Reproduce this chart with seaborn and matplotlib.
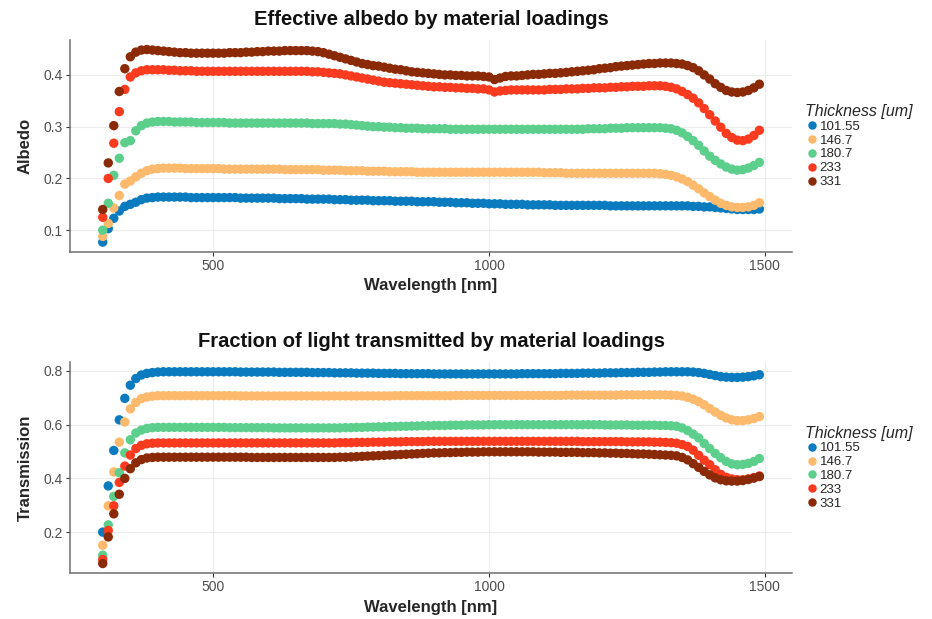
import numpy as np
import pandas as pd
import seaborn as sns
import matplotlib.pyplot as plt

# wavelength grid [nm], one point every 10 nm
wavelength = np.arange(300, 1500, 10)

thickness = ["101.55", "146.7", "180.7", "233", "331"]
colors = ["#0a7bbf", "#fdb96c", "#5dcf8c", "#fb3b1f", "#8b2a06"]

# Effective albedo, 300-1490 nm
albedo_101 = [
    0.077, 0.103, 0.123, 0.137, 0.146, 0.150, 0.154, 0.159, 0.162, 0.163,
    0.164, 0.164, 0.164, 0.164, 0.164, 0.164, 0.163, 0.163, 0.163, 0.163,
    0.163, 0.163, 0.163, 0.163, 0.163, 0.162, 0.162, 0.162, 0.162, 0.162,
    0.162, 0.162, 0.161, 0.161, 0.161, 0.161, 0.161, 0.160, 0.160, 0.160,
    0.160, 0.160, 0.159, 0.159, 0.159, 0.158, 0.158, 0.158, 0.158, 0.157,
    0.157, 0.157, 0.157, 0.156, 0.156, 0.156, 0.156, 0.155, 0.155, 0.155,
    0.155, 0.154, 0.154, 0.154, 0.153, 0.153, 0.153, 0.152, 0.152, 0.152,
    0.151, 0.151, 0.151, 0.150, 0.150, 0.150, 0.150, 0.149, 0.149, 0.149,
    0.149, 0.149, 0.148, 0.148, 0.148, 0.148, 0.148, 0.148, 0.148, 0.148,
    0.148, 0.148, 0.147, 0.147, 0.147, 0.147, 0.147, 0.147, 0.147, 0.147,
    0.147, 0.147, 0.147, 0.147, 0.147, 0.147, 0.147, 0.146, 0.146, 0.145,
    0.145, 0.144, 0.143, 0.142, 0.141, 0.140, 0.140, 0.140, 0.140, 0.141,
]
albedo_146 = [
    0.088, 0.113, 0.143, 0.167, 0.189, 0.195, 0.203, 0.210, 0.215, 0.218,
    0.219, 0.220, 0.220, 0.220, 0.220, 0.219, 0.219, 0.219, 0.219, 0.219,
    0.219, 0.219, 0.218, 0.218, 0.218, 0.218, 0.218, 0.218, 0.218, 0.218,
    0.218, 0.218, 0.218, 0.217, 0.217, 0.217, 0.217, 0.217, 0.217, 0.217,
    0.216, 0.216, 0.216, 0.216, 0.215, 0.215, 0.215, 0.215, 0.214, 0.214,
    0.214, 0.214, 0.213, 0.213, 0.213, 0.213, 0.213, 0.212, 0.212, 0.212,
    0.212, 0.212, 0.212, 0.212, 0.212, 0.212, 0.212, 0.212, 0.212, 0.212,
    0.212, 0.212, 0.212, 0.212, 0.212, 0.212, 0.212, 0.212, 0.212, 0.212,
    0.211, 0.211, 0.211, 0.211, 0.210, 0.210, 0.210, 0.210, 0.210, 0.210,
    0.210, 0.210, 0.210, 0.210, 0.210, 0.210, 0.210, 0.210, 0.210, 0.210,
    0.210, 0.209, 0.208, 0.206, 0.203, 0.199, 0.194, 0.187, 0.180, 0.172,
    0.165, 0.158, 0.152, 0.148, 0.145, 0.144, 0.144, 0.145, 0.148, 0.153,
]
albedo_180 = [
    0.100, 0.152, 0.206, 0.239, 0.269, 0.273, 0.292, 0.302, 0.307, 0.309,
    0.310, 0.310, 0.310, 0.309, 0.309, 0.309, 0.309, 0.308, 0.308, 0.308,
    0.308, 0.308, 0.308, 0.307, 0.307, 0.307, 0.307, 0.307, 0.307, 0.307,
    0.307, 0.307, 0.307, 0.307, 0.307, 0.307, 0.307, 0.307, 0.306, 0.306,
    0.306, 0.306, 0.306, 0.305, 0.305, 0.304, 0.303, 0.302, 0.301, 0.300,
    0.300, 0.299, 0.299, 0.298, 0.298, 0.297, 0.297, 0.297, 0.296, 0.296,
    0.296, 0.296, 0.296, 0.295, 0.295, 0.295, 0.295, 0.295, 0.295, 0.295,
    0.295, 0.295, 0.295, 0.295, 0.295, 0.295, 0.295, 0.295, 0.295, 0.295,
    0.295, 0.295, 0.295, 0.295, 0.295, 0.295, 0.295, 0.295, 0.296, 0.296,
    0.296, 0.296, 0.297, 0.297, 0.297, 0.298, 0.298, 0.298, 0.298, 0.298,
    0.298, 0.298, 0.297, 0.296, 0.293, 0.288, 0.281, 0.273, 0.264, 0.253,
    0.243, 0.235, 0.228, 0.222, 0.218, 0.216, 0.217, 0.220, 0.225, 0.231,
]
albedo_233 = [
    0.125, 0.200, 0.268, 0.329, 0.372, 0.396, 0.404, 0.408, 0.410, 0.410,
    0.410, 0.410, 0.409, 0.409, 0.408, 0.408, 0.408, 0.407, 0.407, 0.407,
    0.407, 0.407, 0.407, 0.407, 0.407, 0.407, 0.407, 0.407, 0.407, 0.407,
    0.407, 0.407, 0.407, 0.407, 0.407, 0.407, 0.407, 0.407, 0.406, 0.406,
    0.405, 0.404, 0.403, 0.402, 0.400, 0.398, 0.396, 0.394, 0.392, 0.390,
    0.388, 0.386, 0.385, 0.384, 0.383, 0.382, 0.381, 0.380, 0.379, 0.378,
    0.377, 0.377, 0.376, 0.376, 0.375, 0.375, 0.374, 0.374, 0.373, 0.373,
    0.371, 0.367, 0.369, 0.370, 0.371, 0.371, 0.371, 0.371, 0.371, 0.371,
    0.371, 0.372, 0.372, 0.372, 0.373, 0.373, 0.373, 0.374, 0.374, 0.375,
    0.375, 0.375, 0.376, 0.376, 0.377, 0.377, 0.378, 0.378, 0.378, 0.379,
    0.379, 0.379, 0.378, 0.376, 0.373, 0.368, 0.362, 0.355, 0.346, 0.335,
    0.323, 0.311, 0.299, 0.287, 0.279, 0.274, 0.273, 0.276, 0.283, 0.293,
]
albedo_331 = [
    0.140, 0.230, 0.302, 0.368, 0.412, 0.435, 0.444, 0.448, 0.449, 0.448,
    0.447, 0.446, 0.445, 0.444, 0.443, 0.443, 0.442, 0.442, 0.442, 0.442,
    0.442, 0.442, 0.442, 0.443, 0.443, 0.443, 0.444, 0.444, 0.445, 0.445,
    0.446, 0.446, 0.446, 0.447, 0.447, 0.447, 0.447, 0.447, 0.446, 0.445,
    0.443, 0.440, 0.437, 0.434, 0.431, 0.428, 0.425, 0.422, 0.420, 0.418,
    0.417, 0.415, 0.413, 0.411, 0.410, 0.408, 0.406, 0.405, 0.404, 0.403,
    0.402, 0.401, 0.400, 0.400, 0.399, 0.399, 0.398, 0.398, 0.398, 0.397,
    0.396, 0.391, 0.394, 0.397, 0.398, 0.398, 0.399, 0.400, 0.401, 0.401,
    0.402, 0.403, 0.403, 0.404, 0.405, 0.406, 0.407, 0.408, 0.409, 0.410,
    0.412, 0.413, 0.414, 0.416, 0.417, 0.418, 0.419, 0.420, 0.421, 0.422,
    0.422, 0.423, 0.423, 0.423, 0.422, 0.421, 0.418, 0.414, 0.408, 0.400,
    0.392, 0.383, 0.376, 0.370, 0.367, 0.366, 0.367, 0.370, 0.375, 0.382,
]

# Fraction of light transmitted, 300-1490 nm
trans_101 = [
    0.200, 0.372, 0.504, 0.618, 0.698, 0.747, 0.772, 0.785, 0.791, 0.794,
    0.796, 0.797, 0.797, 0.797, 0.797, 0.797, 0.797, 0.797, 0.797, 0.797,
    0.797, 0.797, 0.797, 0.797, 0.797, 0.796, 0.796, 0.796, 0.796, 0.796,
    0.796, 0.796, 0.795, 0.795, 0.795, 0.795, 0.795, 0.795, 0.794, 0.794,
    0.794, 0.794, 0.793, 0.793, 0.793, 0.793, 0.792, 0.792, 0.792, 0.792,
    0.791, 0.791, 0.791, 0.791, 0.790, 0.790, 0.790, 0.790, 0.790, 0.790,
    0.789, 0.789, 0.789, 0.789, 0.789, 0.789, 0.789, 0.789, 0.789, 0.789,
    0.789, 0.789, 0.789, 0.789, 0.789, 0.789, 0.790, 0.790, 0.790, 0.790,
    0.790, 0.790, 0.790, 0.791, 0.791, 0.791, 0.791, 0.792, 0.792, 0.792,
    0.792, 0.793, 0.793, 0.793, 0.794, 0.794, 0.794, 0.795, 0.795, 0.795,
    0.796, 0.796, 0.797, 0.797, 0.797, 0.797, 0.797, 0.796, 0.794, 0.791,
    0.787, 0.783, 0.779, 0.777, 0.776, 0.776, 0.777, 0.779, 0.782, 0.786,
]
trans_146 = [
    0.151, 0.298, 0.424, 0.535, 0.610, 0.659, 0.683, 0.697, 0.703, 0.706,
    0.708, 0.708, 0.708, 0.708, 0.708, 0.708, 0.708, 0.708, 0.708, 0.708,
    0.708, 0.708, 0.708, 0.708, 0.708, 0.707, 0.707, 0.707, 0.707, 0.707,
    0.707, 0.707, 0.707, 0.707, 0.707, 0.707, 0.707, 0.707, 0.707, 0.707,
    0.707, 0.707, 0.707, 0.707, 0.707, 0.707, 0.707, 0.707, 0.707, 0.707,
    0.707, 0.707, 0.707, 0.708, 0.708, 0.708, 0.708, 0.708, 0.708, 0.708,
    0.708, 0.708, 0.708, 0.708, 0.709, 0.709, 0.709, 0.709, 0.709, 0.709,
    0.709, 0.709, 0.709, 0.709, 0.709, 0.709, 0.709, 0.709, 0.709, 0.709,
    0.709, 0.709, 0.709, 0.709, 0.710, 0.710, 0.710, 0.710, 0.710, 0.710,
    0.710, 0.710, 0.710, 0.710, 0.711, 0.711, 0.711, 0.711, 0.711, 0.711,
    0.711, 0.711, 0.711, 0.710, 0.709, 0.707, 0.702, 0.695, 0.686, 0.674,
    0.660, 0.647, 0.635, 0.625, 0.618, 0.615, 0.615, 0.618, 0.623, 0.630,
]
trans_180 = [
    0.114, 0.227, 0.333, 0.421, 0.495, 0.544, 0.569, 0.580, 0.586, 0.589,
    0.590, 0.590, 0.590, 0.590, 0.590, 0.590, 0.590, 0.590, 0.590, 0.590,
    0.590, 0.590, 0.590, 0.589, 0.589, 0.589, 0.589, 0.589, 0.589, 0.589,
    0.589, 0.588, 0.588, 0.588, 0.588, 0.588, 0.588, 0.588, 0.588, 0.588,
    0.588, 0.588, 0.588, 0.588, 0.589, 0.589, 0.590, 0.590, 0.591, 0.591,
    0.592, 0.592, 0.593, 0.593, 0.594, 0.594, 0.595, 0.595, 0.596, 0.596,
    0.597, 0.597, 0.597, 0.598, 0.598, 0.598, 0.599, 0.599, 0.599, 0.599,
    0.600, 0.600, 0.600, 0.600, 0.600, 0.600, 0.600, 0.600, 0.600, 0.600,
    0.600, 0.600, 0.600, 0.600, 0.600, 0.600, 0.600, 0.600, 0.600, 0.600,
    0.600, 0.599, 0.599, 0.599, 0.599, 0.599, 0.598, 0.598, 0.598, 0.598,
    0.598, 0.597, 0.597, 0.596, 0.594, 0.588, 0.578, 0.565, 0.551, 0.530,
    0.511, 0.493, 0.477, 0.463, 0.454, 0.451, 0.452, 0.456, 0.463, 0.474,
]
trans_233 = [
    0.098, 0.206, 0.298, 0.385, 0.446, 0.487, 0.511, 0.523, 0.529, 0.531,
    0.532, 0.532, 0.532, 0.532, 0.532, 0.532, 0.532, 0.532, 0.532, 0.532,
    0.532, 0.532, 0.532, 0.532, 0.532, 0.532, 0.532, 0.532, 0.532, 0.532,
    0.532, 0.532, 0.532, 0.532, 0.532, 0.532, 0.532, 0.532, 0.532, 0.532,
    0.532, 0.532, 0.532, 0.533, 0.533, 0.533, 0.534, 0.534, 0.534, 0.535,
    0.535, 0.535, 0.536, 0.536, 0.536, 0.537, 0.537, 0.537, 0.537, 0.538,
    0.538, 0.538, 0.538, 0.538, 0.538, 0.538, 0.538, 0.538, 0.538, 0.538,
    0.538, 0.538, 0.538, 0.538, 0.538, 0.538, 0.538, 0.538, 0.538, 0.538,
    0.538, 0.538, 0.538, 0.538, 0.538, 0.538, 0.538, 0.537, 0.537, 0.537,
    0.537, 0.537, 0.537, 0.537, 0.537, 0.536, 0.536, 0.536, 0.536, 0.536,
    0.535, 0.535, 0.534, 0.533, 0.531, 0.526, 0.519, 0.505, 0.486, 0.468,
    0.451, 0.432, 0.415, 0.404, 0.398, 0.395, 0.395, 0.398, 0.403, 0.409,
]
trans_331 = [
    0.083, 0.182, 0.268, 0.341, 0.400, 0.436, 0.458, 0.470, 0.476, 0.478,
    0.479, 0.479, 0.479, 0.479, 0.479, 0.479, 0.479, 0.479, 0.479, 0.479,
    0.479, 0.479, 0.479, 0.479, 0.479, 0.479, 0.479, 0.478, 0.478, 0.478,
    0.478, 0.478, 0.478, 0.478, 0.478, 0.478, 0.478, 0.478, 0.478, 0.478,
    0.478, 0.478, 0.478, 0.479, 0.479, 0.480, 0.481, 0.482, 0.483, 0.484,
    0.485, 0.486, 0.487, 0.488, 0.489, 0.490, 0.491, 0.492, 0.493, 0.494,
    0.495, 0.495, 0.496, 0.496, 0.497, 0.497, 0.498, 0.498, 0.498, 0.499,
    0.499, 0.499, 0.499, 0.499, 0.499, 0.499, 0.499, 0.499, 0.499, 0.498,
    0.498, 0.498, 0.498, 0.497, 0.497, 0.497, 0.497, 0.496, 0.496, 0.496,
    0.495, 0.495, 0.494, 0.494, 0.493, 0.493, 0.492, 0.491, 0.491, 0.490,
    0.489, 0.488, 0.487, 0.486, 0.484, 0.478, 0.469, 0.455, 0.441, 0.426,
    0.413, 0.402, 0.395, 0.391, 0.390, 0.390, 0.392, 0.396, 0.401, 0.407,
]

albedo = [albedo_101, albedo_146, albedo_180, albedo_233, albedo_331]
transmission = [trans_101, trans_146, trans_180, trans_233, trans_331]


def long_frame(series, name):
    parts = []
    for t, vals in zip(thickness, series):
        parts.append(pd.DataFrame({"wavelength": wavelength, name: vals, "thickness": t}))
    return pd.concat(parts, ignore_index=True)


df_alb = long_frame(albedo, "Albedo")
df_tr = long_frame(transmission, "Transmission")

sns.set_theme(style="whitegrid")
plt.rcParams["font.family"] = ["Liberation Sans", "DejaVu Sans"]

fig = plt.figure(figsize=(9.32, 6.19), dpi=100)
ax1 = fig.add_axes([0.075, 0.593, 0.775, 0.342])
ax2 = fig.add_axes([0.075, 0.074, 0.775, 0.341])

palette = dict(zip(thickness, colors))

panels = [
    (ax1, df_alb, "Albedo", "Effective albedo by material loadings",
     (0.058, 0.467), [0.1, 0.2, 0.3, 0.4]),
    (ax2, df_tr, "Transmission", "Fraction of light transmitted by material loadings",
     (0.047, 0.833), [0.2, 0.4, 0.6, 0.8]),
]

for ax, df, col, title, ylim, yticks in panels:
    sns.scatterplot(data=df, x="wavelength", y=col, hue="thickness",
                    hue_order=thickness, palette=palette, s=46,
                    linewidth=0, alpha=1, ax=ax, legend=True)
    ax.set_xlim(240.5, 1549.5)
    ax.set_ylim(*ylim)
    ax.set_xticks([500, 1000, 1500])
    ax.set_yticks(yticks)
    ax.set_yticklabels([f"{v:g}" for v in yticks])
    ax.grid(True, color="#ececec", linewidth=0.8)
    ax.set_axisbelow(True)
    for side in ["top", "right"]:
        ax.spines[side].set_visible(False)
    for side in ["left", "bottom"]:
        ax.spines[side].set_color("#707070")
        ax.spines[side].set_linewidth(1.1)
    ax.tick_params(axis="both", which="major", length=3, width=0.8,
                   color="#333333", labelsize=10, labelcolor="#4d4d4d",
                   bottom=True, left=True, pad=2)
    ax.set_title(title, fontsize=14.5, fontweight="bold", pad=11, color="#111111")
    ax.set_xlabel("Wavelength [nm]", fontsize=12, fontweight="bold", labelpad=4)
    ax.set_ylabel(col, fontsize=12, fontweight="bold", labelpad=8)
    sns.move_legend(ax, "center left", bbox_to_anchor=(1.005, 0.5),
                    title="Thickness [um]", frameon=False, fontsize=9.5,
                    handletextpad=0.1, labelspacing=0.12, handlelength=1.0,
                    borderpad=0.2, alignment="left", markerscale=0.9)
    leg = ax.get_legend()
    leg.get_title().set_fontstyle("italic")
    leg.get_title().set_fontsize(11.5)

fig.savefig("out.png", dpi=100)
